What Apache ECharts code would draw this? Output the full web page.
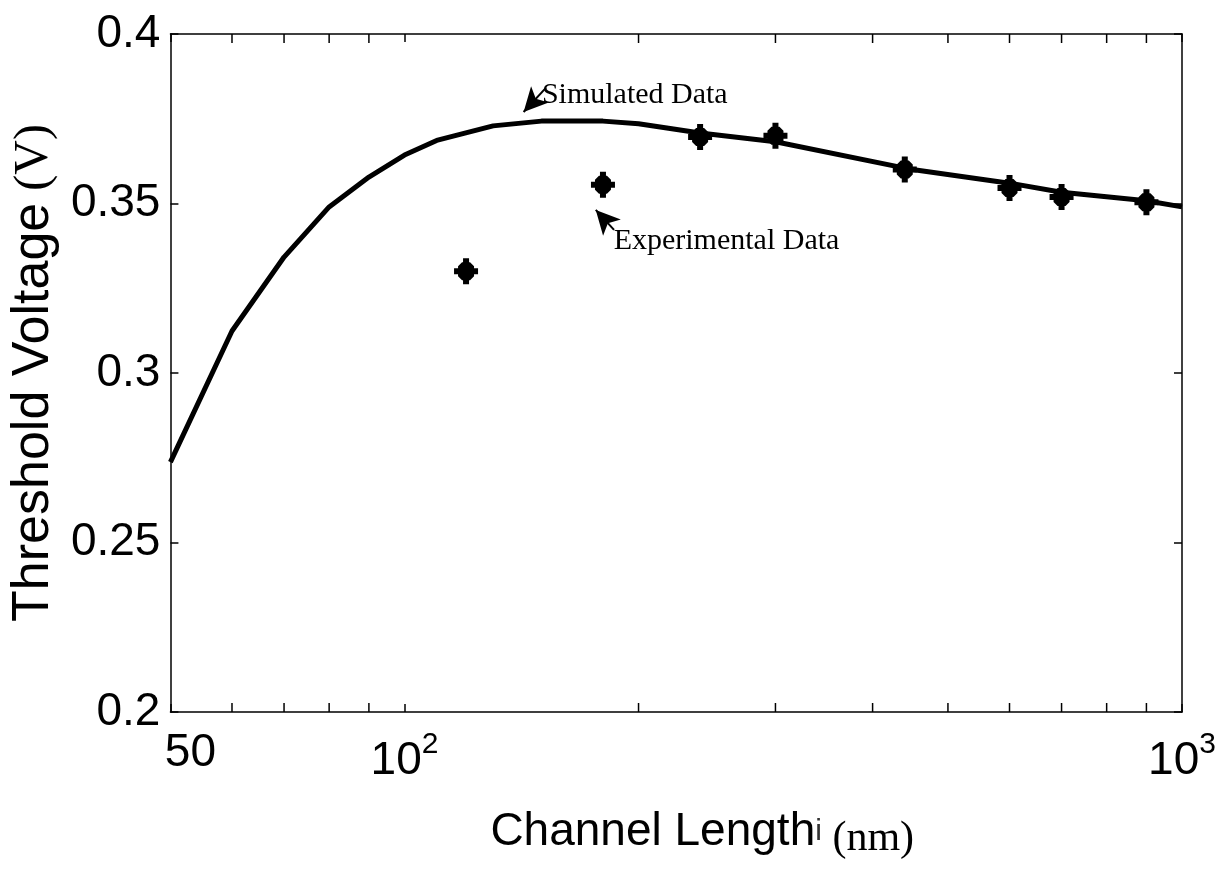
<!DOCTYPE html>
<html>
<head>
<meta charset="utf-8">
<script src="https://cdn.jsdelivr.net/npm/echarts@6/dist/echarts.min.js"></script>
<style>
html, body { margin: 0; background: #fff; }
#main { width: 1231px; height: 869px; }
</style>
</head>
<body>
<div id="main"></div>
<script>
// simulated curve (channel length in nm, threshold voltage in V)
const simLength = [50, 60, 70, 80, 90, 100, 110, 130, 150, 180, 200, 240, 300, 450, 600, 700, 900, 1000];
const simVth = [0.2737, 0.3124, 0.3342, 0.3490, 0.3578, 0.3643, 0.3686, 0.3729, 0.3743, 0.3743, 0.3735, 0.3708, 0.3682, 0.3600, 0.3560, 0.3533, 0.3508, 0.3490];

// measured points
const expLength = [120, 180, 240, 300, 440, 600, 700, 900];
const expVth = [0.330, 0.3555, 0.3696, 0.3700, 0.3600, 0.3546, 0.3519, 0.3504];

// minor ticks of the log axis
const minorTicks = [60, 70, 80, 90, 200, 300, 400, 500, 600, 700, 800, 900];
const yTicks = [0.2, 0.25, 0.3, 0.35, 0.4];

// fat plus marker
const plusMark = 'path://M9,0L15,0L15,26L9,26Z M0,10L24,10L24,16L0,16Z M8,4L16,4L20,8L20,18L16,22L8,22L4,18L4,8Z';

const sans = 'Arial, "Liberation Sans", sans-serif';
const serif = '"Times New Roman", "Liberation Serif", serif';

const chart = echarts.init(document.getElementById('main'));

const axisLine = { show: true, lineStyle: { color: '#000', width: 1.5 } };
const tickIn = { show: true, inside: true, length: 8, lineStyle: { color: '#000', width: 1.5 } };

const option = {
  backgroundColor: '#fff',
  animation: false,
  grid: { left: 170, right: 49, top: 34, bottom: 157 },
  xAxis: [
    {
      type: 'log',
      logBase: 10,
      min: 50,
      max: 1000,
      position: 'bottom',
      axisLine: axisLine,
      axisTick: tickIn,
      splitLine: { show: false },
      axisLabel: {
        showMinLabel: true,
        showMaxLabel: true,
        margin: 18,
        color: '#000',
        formatter: function (v) {
          if (Math.abs(v - 100) < 1e-6) return '{b|10}{s|2}';
          if (Math.abs(v - 1000) < 1e-6) return '{b|10}{s|3}';
          return '{f|50}';
        },
        rich: {
          b: { fontSize: 46, fontFamily: sans, color: '#000', padding: [8, 0, 0, 0] },
          f: { fontSize: 46, fontFamily: sans, color: '#000', padding: [0, 0, 0, 40] },
          s: { fontSize: 30, fontFamily: sans, color: '#000', verticalAlign: 'top' }
        }
      },
      name: '{a|Channel Length}{i|i}{b| (nm)}',
      nameLocation: 'middle',
      nameGap: 92,
      nameTextStyle: {
        padding: [0, 0, 0, 52],
        rich: {
          a: { fontSize: 46, fontFamily: sans, color: '#000' },
          i: { fontSize: 30, fontFamily: sans, color: '#333' },
          b: { fontSize: 42, fontFamily: serif, color: '#000', padding: [14, 0, 0, 0] }
        }
      }
    },
    {
      type: 'log',
      logBase: 10,
      min: 50,
      max: 1000,
      position: 'top',
      axisLine: axisLine,
      axisTick: tickIn,
      axisLabel: { show: false },
      splitLine: { show: false }
    }
  ],
  yAxis: [
    {
      type: 'value',
      min: 0.2,
      max: 0.4,
      interval: 0.05,
      position: 'left',
      axisLine: axisLine,
      axisTick: tickIn,
      splitLine: { show: false },
      axisLabel: {
        margin: 10,
        color: '#000',
        fontSize: 46,
        fontFamily: sans,
        formatter: v => String(+v.toFixed(2))
      },
      name: '{a|Threshold Voltage}{b| (V)}',
      nameLocation: 'middle',
      nameGap: 104,
      nameRotate: 90,
      nameTextStyle: {
        rich: {
          a: { fontSize: 52, fontFamily: sans, color: '#000' },
          b: { fontSize: 48, fontFamily: serif, color: '#000' }
        }
      }
    },
    {
      type: 'value',
      min: 0.2,
      max: 0.4,
      interval: 0.05,
      position: 'right',
      axisLine: axisLine,
      axisTick: tickIn,
      axisLabel: { show: false },
      splitLine: { show: false }
    }
  ],
  series: [
    {
      name: 'Simulated',
      type: 'line',
      data: simLength.map((x, i) => [x, simVth[i]]),
      showSymbol: false,
      symbol: 'none',
      lineStyle: { color: '#000', width: 5 },
      z: 3,
      markLine: {
        silent: true,
        symbol: ['none', 'arrow'],
        symbolSize: [18, 24],
        lineStyle: { color: '#000', width: 2, type: 'solid' },
        label: { show: false },
        data: [
          [{ coord: [152, 0.3841] }, { coord: [142.3, 0.377] }],
          [{ coord: [186, 0.3422] }, { coord: [176.2, 0.3481] }]
        ]
      },
      markPoint: {
        silent: true,
        symbol: 'circle',
        symbolSize: 1,
        itemStyle: { color: 'rgba(0,0,0,0)' },
        label: {
          show: true,
          position: 'right',
          distance: 0,
          color: '#000',
          fontSize: 30,
          fontFamily: serif,
          formatter: '{b}'
        },
        data: [
          { name: 'Simulated Data', coord: [150, 0.382] },
          { name: 'Experimental Data', coord: [185.5, 0.3389] }
        ]
      }
    },
    {
      name: 'Experimental',
      type: 'scatter',
      data: expLength.map((x, i) => [x, expVth[i]]),
      symbol: plusMark,
      symbolSize: [24, 26],
      itemStyle: { color: '#000', opacity: 1 },
      z: 4
    },
    {
      name: 'minor-bottom',
      type: 'scatter',
      silent: true,
      data: minorTicks.map(x => [x, yTicks[0]]),
      symbol: 'rect',
      symbolSize: [1.5, 9],
      symbolOffset: [0, -4.5],
      itemStyle: { color: '#000', opacity: 1 }
    },
    {
      name: 'minor-top',
      type: 'scatter',
      silent: true,
      data: minorTicks.map(x => [x, yTicks[yTicks.length - 1]]),
      symbol: 'rect',
      symbolSize: [1.5, 9],
      symbolOffset: [0, 4.5],
      itemStyle: { color: '#000', opacity: 1 }
    }
  ]
};

chart.setOption(option);
</script>
</body>
</html>
